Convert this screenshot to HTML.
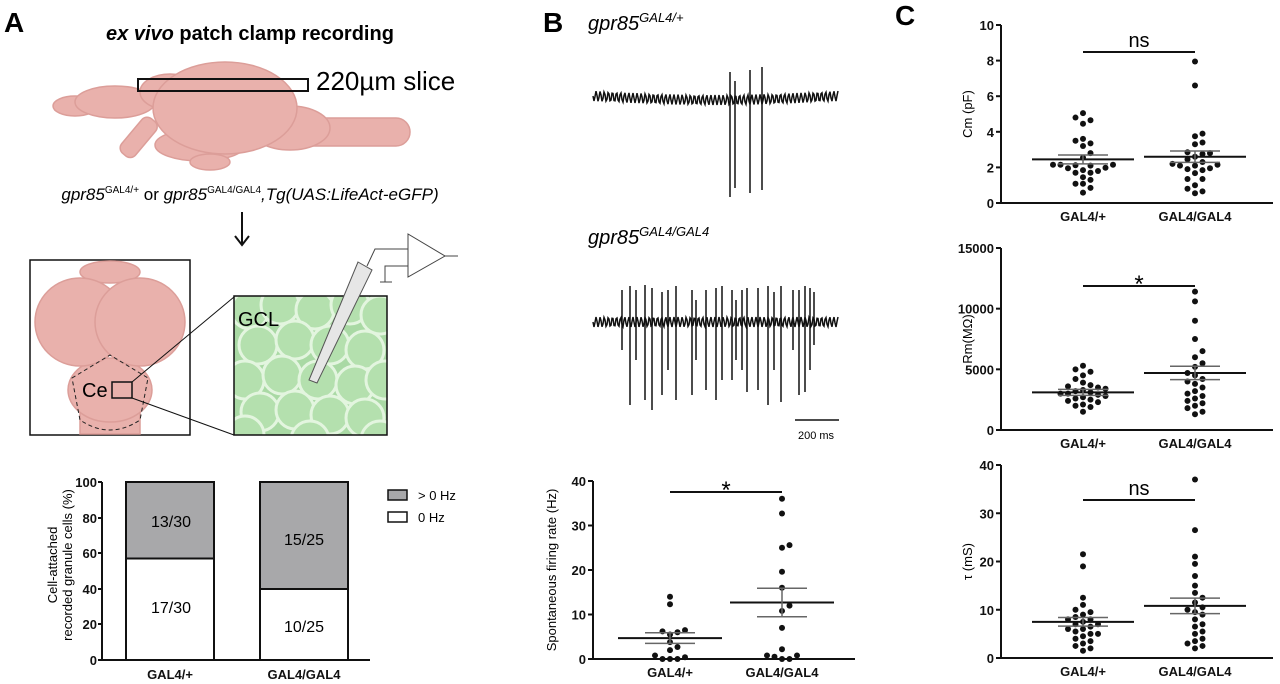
<!DOCTYPE html>
<html><head><meta charset="utf-8">
<style>
html,body{margin:0;padding:0;background:#fff;}
svg{display:block;font-family:"Liberation Sans",Arial,sans-serif;}
.t{font-size:13px;font-weight:bold;fill:#111;}
.ax{stroke:#111;stroke-width:2;fill:none;}
</style></head>
<body>
<svg id="s" width="1280" height="684" viewBox="0 0 1280 684" xmlns="http://www.w3.org/2000/svg">
<defs><clipPath id="gc"><rect x="234" y="296" width="153" height="139"/></clipPath></defs>
<rect width="1280" height="684" fill="#fff"/>
<text x="4" y="32" font-size="28" font-weight="bold">A</text>
<text x="543" y="32" font-size="28" font-weight="bold">B</text>
<text x="895" y="25" font-size="28" font-weight="bold">C</text>

<text x="250" y="40" font-size="20" font-weight="bold" text-anchor="middle"><tspan font-style="italic">ex vivo</tspan> patch clamp recording</text>
<g fill="#e9b1ac" stroke="#dc9e99" stroke-width="1.5">
  <rect x="260" y="118" width="150" height="28" rx="14"/>
  <ellipse cx="75" cy="106" rx="22" ry="10"/>
  <ellipse cx="115" cy="102" rx="40" ry="16"/>
  <rect x="130" y="115" width="18" height="45" rx="7" transform="rotate(40 139 137)"/>
  <ellipse cx="200" cy="145" rx="45" ry="16"/>
  <ellipse cx="210" cy="162" rx="20" ry="8"/>
  <ellipse cx="290" cy="128" rx="40" ry="22"/>
  <ellipse cx="170" cy="92" rx="30" ry="18"/>
  <ellipse cx="225" cy="108" rx="72" ry="46"/>
</g>
<rect x="138" y="79" width="170" height="12" fill="none" stroke="#111" stroke-width="2"/>
<text x="316" y="90" font-size="26">220µm slice</text>
<text x="250" y="200" font-size="17" text-anchor="middle" font-style="italic">gpr85<tspan font-size="10" dy="-7" font-style="normal">GAL4/+</tspan><tspan dy="7" font-style="normal"> or </tspan>gpr85<tspan font-size="10" dy="-7" font-style="normal">GAL4/GAL4</tspan><tspan dy="7">,Tg(UAS:LifeAct-eGFP)</tspan></text>
<line x1="242" y1="212" x2="242" y2="244" stroke="#111" stroke-width="2"/>
<path d="M235 236 L242 245 L249 236" fill="none" stroke="#111" stroke-width="2"/>
<rect x="30" y="260" width="160" height="175" fill="#fff" stroke="#111" stroke-width="1.5"/>
<g fill="#e9b1ac" stroke="#dc9e99" stroke-width="1.5">
  <rect x="80" y="390" width="60" height="44"/>
  <ellipse cx="110" cy="390" rx="42" ry="32"/>
  <ellipse cx="110" cy="272" rx="30" ry="11"/>
  <ellipse cx="80" cy="322" rx="45" ry="44"/>
  <ellipse cx="140" cy="322" rx="45" ry="44"/>
</g>
<path d="M72 378 L110 355 L148 378 L140 420 Q110 440 80 420 Z" fill="none" stroke="#222" stroke-dasharray="4,3"/>
<text x="82" y="397" font-size="20">Ce</text>
<rect x="112" y="382" width="20" height="16" fill="none" stroke="#111" stroke-width="1.5"/>
<line x1="132" y1="382" x2="234" y2="297" stroke="#111"/>
<line x1="132" y1="398" x2="234" y2="435" stroke="#111"/>
<rect x="234" y="296" width="153" height="139" fill="#a9d9a4"/>
<g fill="#b4e0ae" stroke="#e3f5df" stroke-width="3" id="cells" clip-path="url(#gc)"></g>
<rect x="234" y="296" width="153" height="139" fill="none" stroke="#111" stroke-width="1.5"/>
<text x="238" y="326" font-size="20">GCL</text>
<polygon points="358,262 372,270 317,383 309,380" fill="#e6e6e6" stroke="#555"/>
<path d="M367 266 L375 249 L408 249" fill="none" stroke="#444"/>
<path d="M385 282 L385 266 L408 266" fill="none" stroke="#444"/>
<line x1="380" y1="282" x2="392" y2="282" stroke="#444"/>
<polygon points="408,234 408,277 445,256" fill="#fff" stroke="#444"/>
<line x1="445" y1="256" x2="458" y2="256" stroke="#444"/>

<g id="bar">
  <rect x="126" y="482" width="88" height="76.5" fill="#a8a8aa" stroke="#111" stroke-width="2"/>
  <rect x="126" y="558.5" width="88" height="101.5" fill="#fff" stroke="#111" stroke-width="2"/>
  <rect x="260" y="482" width="88" height="107" fill="#a8a8aa" stroke="#111" stroke-width="2"/>
  <rect x="260" y="589" width="88" height="71" fill="#fff" stroke="#111" stroke-width="2"/>
  <g font-size="16" text-anchor="middle">
    <text x="171" y="527">13/30</text><text x="171" y="613">17/30</text>
    <text x="304" y="545">15/25</text><text x="304" y="632">10/25</text>
  </g>
  <path class="ax" d="M102 482 V660 H370"/>
  <g class="t" text-anchor="end">
    <text x="97" y="487">100</text><text x="97" y="523">80</text><text x="97" y="558">60</text>
    <text x="97" y="594">40</text><text x="97" y="629">20</text><text x="97" y="665">0</text>
  </g>
  <g stroke="#111" stroke-width="2"><line x1="98" y1="482" x2="102" y2="482"/><line x1="98" y1="518" x2="102" y2="518"/><line x1="98" y1="553" x2="102" y2="553"/><line x1="98" y1="589" x2="102" y2="589"/><line x1="98" y1="624" x2="102" y2="624"/><line x1="98" y1="660" x2="102" y2="660"/></g>
  <text class="t" x="170" y="679" text-anchor="middle">GAL4/+</text>
  <text class="t" x="304" y="679" text-anchor="middle">GAL4/GAL4</text>
  <text transform="translate(57,565) rotate(-90)" font-size="13" text-anchor="middle">Cell-attached</text>
  <text transform="translate(72,565) rotate(-90)" font-size="13" text-anchor="middle">recorded granule cells (%)</text>
  <rect x="388" y="490" width="19" height="10" fill="#a8a8aa" stroke="#111" stroke-width="1.5"/>
  <rect x="388" y="512" width="19" height="10" fill="#fff" stroke="#111" stroke-width="1.5"/>
  <text x="418" y="500" font-size="13">&gt; 0 Hz</text>
  <text x="418" y="522" font-size="13">0 Hz</text>
</g>

<text x="588" y="30" font-size="20" font-style="italic">gpr85<tspan font-size="13" dy="-8">GAL4/+</tspan></text>
<text x="588" y="244" font-size="20" font-style="italic">gpr85<tspan font-size="13" dy="-8">GAL4/GAL4</tspan></text>
<g id="traces" stroke="#111" fill="none" stroke-width="1.5"></g>
<line x1="795" y1="420" x2="839" y2="420" stroke="#111" stroke-width="1.5"/>
<text x="816" y="439" font-size="11" text-anchor="middle">200 ms</text>

<g id="plots"></g>
</svg>
<script>
var NS="http://www.w3.org/2000/svg",P=document.getElementById('plots');
function el(t,a,par,txt){var e=document.createElementNS(NS,t);for(var k in a)e.setAttribute(k,a[k]);if(txt!==undefined)e.textContent=txt;(par||P).appendChild(e);return e;}
var C=document.getElementById('cells');
var cc=[[250,310],[280,305],[315,310],[350,305],[380,315],[258,345],[295,340],[330,345],[365,350],[245,380],[282,375],[318,380],[355,385],[385,380],[260,412],[295,410],[330,415],[365,418],[245,435],[310,440],[380,440]];
cc.forEach(function(c){el('circle',{cx:c[0],cy:c[1],r:19},C);});
var T=document.getElementById('traces');
function trace(y0,x0,x1,spikes,slope){var d='M'+x0+' '+y0;for(var x=x0;x<=x1;x+=1){var yb=y0+slope*Math.sin((x-x0)/(x1-x0)*Math.PI);d+=' L'+x.toFixed(1)+' '+(yb+5*Math.sin((x-x0)/4.1*2*Math.PI)).toFixed(1);}el('path',{d:d},T);
spikes.forEach(function(s){el('line',{x1:s[0],y1:s[1],x2:s[0],y2:s[2]},T);});}
trace(96,593,838,[[730,72,197],[735,81,188],[750,70,193],[762,67,190]],4);
var sp=[[622,290,350],[630,286,405],[636,290,360],[645,285,400],[652,288,410],[662,292,395],[668,290,370],[676,286,400],[692,290,395],[706,290,390],[716,288,400],[722,286,380],[732,290,380],[742,290,370],[747,288,392],[758,288,390],[768,286,405],[774,292,370],[781,286,402],[793,290,350],[799,290,395],[805,286,392],[810,288,370],[814,292,345],[696,300,360],[736,300,360]];
trace(322,593,838,sp,0);
function plot(o){
 var x0=o.x0,x1=o.x1,yt=o.yt,yb=o.yb,vmax=o.ticks[o.ticks.length-1];
 function Y(v){return yb-(v/vmax)*(yb-yt);}
 el('path',{d:'M'+x0+' '+yt+' V'+yb+' H'+x1,'class':'ax'});
 o.ticks.forEach(function(t){el('line',{x1:x0-5,y1:Y(t),x2:x0,y2:Y(t),stroke:'#111','stroke-width':2});el('text',{x:x0-7,y:Y(t)+5,'class':'t','text-anchor':'end'},P,t);});
 el('text',{x:o.g[0],y:yb+18,'class':'t','text-anchor':'middle'},P,'GAL4/+');
 el('text',{x:o.g[1],y:yb+18,'class':'t','text-anchor':'middle'},P,'GAL4/GAL4');
 el('text',{transform:'translate('+o.lx+','+((yt+yb)/2)+') rotate(-90)','font-size':13,'text-anchor':'middle'},P,o.label);
 el('line',{x1:o.g[0],y1:o.sy,x2:o.g[1],y2:o.sy,stroke:'#111','stroke-width':2});
 el('text',{x:(o.g[0]+o.g[1])/2,y:o.sy-(o.sig=='*'?-6:5),'font-size':o.sig=='*'?24:20,'text-anchor':'middle'},P,o.sig);
 [0,1].forEach(function(i){
  var cx=o.g[i],vals=o.v[i].slice().sort(function(a,b){return a-b;}),placed=[],r=3;
  vals.forEach(function(v){var y=Y(v);for(var k=0;k<40;k++){var off=(k%2?1:-1)*Math.ceil(k/2)*(2*r+1.5);var x=cx+off,ok=true;placed.forEach(function(p){if((p[0]-x)*(p[0]-x)+(p[1]-y)*(p[1]-y)<(2*r+0.5)*(2*r+0.5))ok=false;});if(ok){placed.push([x,y]);break;}}});
  placed.forEach(function(p){el('circle',{cx:p[0],cy:p[1],r:r,fill:'#111'});});
  var m=o.m[i],s=o.se[i];
  el('line',{x1:cx-o.hw,y1:Y(m),x2:cx+o.hw,y2:Y(m),stroke:'#111','stroke-width':2});
  el('line',{x1:cx-o.sw,y1:Y(m+s),x2:cx+o.sw,y2:Y(m+s),stroke:'#666','stroke-width':1.5});
  el('line',{x1:cx-o.sw,y1:Y(m-s),x2:cx+o.sw,y2:Y(m-s),stroke:'#666','stroke-width':1.5});
  el('line',{x1:cx,y1:Y(m+s),x2:cx,y2:Y(m-s),stroke:'#666','stroke-width':1.5});
 });
}
plot({x0:593,x1:855,yt:481,yb:659,ticks:[0,10,20,30,40],g:[670,782],lx:556,label:'Spontaneous firing rate  (Hz)',sy:492,sig:'*',m:[4.7,12.7],se:[1.2,3.2],sw:25,hw:52,
 v:[[14,12.3,6.2,5.5,6,6.5,2.7,2,3.8,0.4,0,0,0,0.8],[36,32.7,25,25.6,19.6,16,12,10.8,7,2.2,0.8,0.5,0,0,0.8]]});
plot({x0:1001,x1:1273,yt:25,yb:203,ticks:[0,2,4,6,8,10],g:[1083,1195],lx:972,label:'Cm (pF)',sy:52,sig:'ns',m:[2.45,2.6],se:[0.25,0.32],hw:51,sw:25,
 v:[[5.05,4.8,4.65,4.45,3.5,3.6,3.35,3.2,2.8,2.55,2.1,1.95,1.8,2.15,2.15,2.15,1.98,2.12,1.45,1.7,1.7,1.85,1.08,1.08,1.3,0.85,0.58],
    [7.95,6.6,3.75,3.9,3.4,3.3,2.85,2.75,2.8,2.6,2.45,2.1,1.95,2.1,2.3,2.2,2.15,1.68,1.85,1.9,1.35,1.35,1.0,0.8,0.65,0.55]]});
plot({x0:1001,x1:1273,yt:248,yb:430,ticks:[0,5000,10000,15000],g:[1083,1195],lx:972,label:'Rm(MΩ)',sy:286,sig:'*',m:[3100,4700],se:[250,550],hw:51,sw:25,
 v:[[5300,5000,4800,4500,4200,3900,3700,3500,3400,3300,3200,3100,3000,3000,2900,2800,2700,2600,2500,2400,2300,2100,2000,1900,1500,3600],
    [11400,10600,9000,7500,6500,6000,5200,4700,4500,4200,3800,3500,3200,3000,2800,2600,2400,2200,2000,1800,1500,1300,4000,5500]]});
plot({x0:1001,x1:1273,yt:465,yb:658,ticks:[0,10,20,30,40],g:[1083,1195],lx:972,label:'τ (mS)',sy:500,sig:'ns',m:[7.5,10.8],se:[0.9,1.6],hw:51,sw:25,
 v:[[21.5,19,12.5,11,10,9.5,9,8.5,8,8,7.5,7,7,6.5,6,6,5.5,5,5,4.5,4,3.5,3,2.5,2,1.5],
    [37,26.5,21,19.5,17,15,13.5,12.5,11.5,10.5,10,9.5,9,8,7,6.5,5.5,5,4,3.5,3,2.5,2]]});
</script>
</body></html>
